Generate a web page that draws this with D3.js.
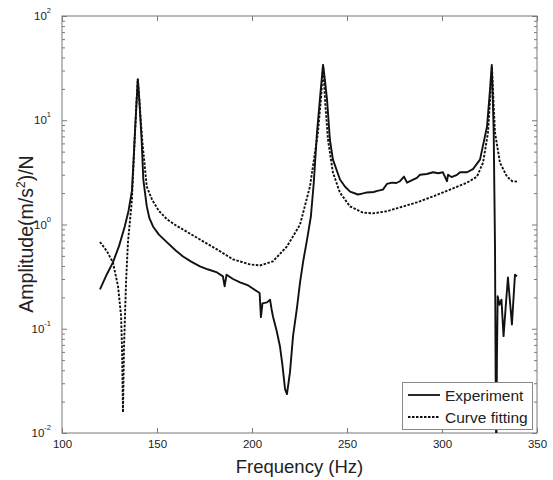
<!DOCTYPE html>
<html>
<head>
<meta charset="utf-8">
<script src="https://cdn.jsdelivr.net/npm/d3@7/dist/d3.min.js"></script>
<style>
  html, body { margin: 0; padding: 0; background: #fff; }
  svg { display: block; }
  text { font-family: "Liberation Sans", Arial, sans-serif; fill: #222; }
</style>
</head>
<body>
<svg id="chart" width="553" height="480"></svg>
<script>
// ---- data ----
const xTicks = [100, 150, 200, 250, 300, 350];
const yTickExps = [-2, -1, 0, 1, 2];

const expFreq = [120, 123.5, 126.8, 130, 133, 135, 136.8, 137.6, 138.4, 139.3, 139.9, 140.7, 141.9, 142.8, 144.6, 146,
  147.9, 151, 155.3, 160, 163.7, 168, 172.6, 177, 181.6, 184.7, 185.6, 186.6, 190, 193.7, 198, 202.6, 204,
  204.7, 205.5, 207.9, 209.5, 210.3, 211, 213, 214.7, 216, 217.4, 218.4, 220, 221.6, 223.7, 225.3, 227, 229,
  231, 232.5, 234.2, 236, 237.4, 238.3, 239.5, 241, 242.6, 246.3, 249, 251.6, 255.8, 258, 260.5, 264, 266,
  268.9, 271, 273.7, 276, 277.9, 280, 281.6, 284, 286.8, 288.4, 292, 295.3, 298, 300.5, 302.6, 303.2, 305,
  307.9, 309.5, 313.2, 316.3, 320, 323.7, 325.3, 326.2, 327.2, 327.9, 328.3, 328.6, 328.9, 329.3, 330.3,
  331.3, 332.4, 333.5, 334.7, 336.8, 338.4, 339.5];
const expAmp = [0.239, 0.33, 0.433, 0.62, 0.95, 1.35, 2.1, 3.9, 7.6, 15.7, 24.8, 15.7, 6.5, 2.7, 1.5, 1.15,
  0.957, 0.8, 0.673, 0.56, 0.494, 0.44, 0.397, 0.37, 0.347, 0.318, 0.255, 0.33, 0.3, 0.279, 0.26, 0.229, 0.22,
  0.129, 0.175, 0.179, 0.19, 0.154, 0.132, 0.095, 0.068, 0.045, 0.0264, 0.0236, 0.0383, 0.085, 0.16, 0.28, 0.45, 0.72,
  1.2, 2.5, 7.6, 18, 34, 25, 15.7, 6.5, 4.19, 2.7, 2.3, 2.07, 1.94, 1.98, 2.03, 2.05, 2.1,
  2.16, 2.45, 2.52, 2.5, 2.6, 2.88, 2.52, 2.65, 2.8, 3.0, 3.05, 3.17, 3.1, 3.17, 2.6, 3.0, 2.85,
  3.0, 3.17, 3.17, 3.4, 4.19, 8.7, 20, 34, 8, 0.6, 0.02, 0.006, 0.05, 0.205, 0.17,
  0.19, 0.085, 0.16, 0.31, 0.11, 0.33, 0.318];

const fitFreq = [120, 123.7, 126.8, 129.5, 131.1, 131.6, 132.1, 132.6, 133.7, 134.7, 136.8, 138.4, 139.3, 139.9,
  140.7, 142.2, 144.6, 147.4, 151, 155.3, 160, 163.7, 172.6, 181.6, 190, 198.9, 204.2, 211, 218.4, 225.3,
  230.5, 234.7, 236.5, 237.4, 238.5, 240, 242.6, 246.3, 251.6, 258.4, 263.7, 271, 277.9, 286.8, 295.3,
  304.2, 313.2, 318.4, 321.6, 324.2, 325.5, 326.3, 327.1, 327.9, 330.5, 334.2, 337, 339.5];
const fitAmp = [0.68, 0.552, 0.433, 0.255, 0.132, 0.0637, 0.0158, 0.0637, 0.279, 0.673, 1.73, 7.6, 15.7, 24.8,
  15.7, 6.5, 2.31, 1.73, 1.35, 1.12, 0.98, 0.895, 0.718, 0.577, 0.463, 0.414, 0.405, 0.443, 0.616, 1.0,
  2.31, 7.6, 18, 34, 15, 6.5, 3.15, 2.02, 1.49, 1.30, 1.28, 1.34, 1.46, 1.63, 1.86,
  2.16, 2.52, 2.88, 3.92, 7.6, 18, 32.5, 15, 7.6, 3.92, 2.88, 2.6, 2.58];

const seriesNames = ["Experiment", "Curve fitting"];

// ---- layout ----
const svg = d3.select("#chart");
const L = 62, R = 537, T = 16, B = 433;
const x = d3.scaleLinear().domain([100, 350]).range([L, R]);
const y = d3.scaleLog().domain([0.01, 100]).range([B, T]);
const axisColor = "#7a7a7a";

svg.append("defs").append("clipPath").attr("id", "clip")
  .append("rect").attr("x", L).attr("y", T).attr("width", R - L).attr("height", B - T);

// minor/major ticks (inward) on all four sides
const yTickVals = [];
for (let e = -2; e < 2; e++) for (let m = 1; m <= 9; m++) yTickVals.push(m * Math.pow(10, e));
yTickVals.push(100);

const leftAxis = d3.axisLeft(y).tickValues(yTickVals).tickSize(0).tickFormat("");
const gL = svg.append("g").attr("transform", `translate(${L},0)`).call(leftAxis);
const gR = svg.append("g").attr("transform", `translate(${R},0)`).call(d3.axisRight(y).tickValues(yTickVals).tickSize(0).tickFormat(""));
[gL, gR].forEach((g, i) => {
  g.select(".domain").remove();
  g.selectAll(".tick line")
    .attr("x2", d => {
      const major = Math.abs(Math.log10(d) - Math.round(Math.log10(d))) < 1e-9;
      const len = major ? 5 : 3;
      return i === 0 ? len : -len;
    })
    .attr("stroke", axisColor).attr("stroke-width", 1);
});

const gB = svg.append("g").attr("transform", `translate(0,${B})`)
  .call(d3.axisBottom(x).tickValues(xTicks).tickSizeInner(-5).tickSizeOuter(0).tickPadding(7).tickFormat(d3.format("d")));
gB.select(".domain").remove();
gB.selectAll(".tick line").attr("stroke", axisColor);
gB.selectAll(".tick text").attr("font-size", 11.5).style("fill", "#222").attr("font-family", "Liberation Sans, Arial, sans-serif");

const gT = svg.append("g").attr("transform", `translate(0,${T})`)
  .call(d3.axisTop(x).tickValues(xTicks).tickSizeInner(-5).tickSizeOuter(0).tickFormat(""));
gT.select(".domain").remove();
gT.selectAll(".tick line").attr("stroke", axisColor);

// frame
svg.append("rect").attr("x", L).attr("y", T).attr("width", R - L).attr("height", B - T)
  .attr("fill", "none").attr("stroke", axisColor).attr("stroke-width", 1);

// y tick labels 10^n
const yl = svg.append("g").selectAll("text").data(yTickExps).join("text")
  .attr("x", 51).attr("y", d => y(Math.pow(10, d)) + 4)
  .attr("text-anchor", "end").attr("font-size", 11.5);
yl.append("tspan").text("10");
yl.append("tspan").attr("dy", -7).attr("font-size", 7.5).attr("text-anchor", "start").text(d => String(d));

// lines
const line = d3.line().x(d => x(d[0])).y(d => y(d[1]));
const plot = svg.append("g").attr("clip-path", "url(#clip)");
plot.append("path").datum(fitFreq.map((f, i) => [f, fitAmp[i]]))
  .attr("d", line).attr("fill", "none").attr("stroke", "#111").attr("stroke-width", 1.9)
  .attr("stroke-dasharray", "2.5,1.5");
plot.append("path").datum(expFreq.map((f, i) => [f, expAmp[i]]))
  .attr("d", line).attr("fill", "none").attr("stroke", "#111").attr("stroke-width", 1.9)
  .attr("stroke-linejoin", "round");

// axis titles
svg.append("text").attr("x", (L + R) / 2).attr("y", 473).attr("text-anchor", "middle")
  .attr("font-size", 18.5).text("Frequency (Hz)");
const yt = svg.append("text").attr("transform", "translate(33,234) rotate(-90)")
  .attr("text-anchor", "middle").attr("font-size", 19.5);
yt.append("tspan").text("Amplitude(m/s");
yt.append("tspan").attr("dy", -8).attr("font-size", 12).text("2");
yt.append("tspan").attr("dy", 8).text(")/N");

// legend
const lg = svg.append("g");
lg.append("rect").attr("x", 402.5).attr("y", 382.5).attr("width", 130).attr("height", 47)
  .attr("fill", "#fff").attr("stroke", "#888").attr("stroke-width", 1);
seriesNames.forEach((name, i) => {
  const cy = 395 + i * 22;
  lg.append("line").attr("x1", 408).attr("x2", 440).attr("y1", cy).attr("y2", cy)
    .attr("stroke", "#111").attr("stroke-width", 1.8)
    .attr("stroke-dasharray", i === 1 ? "2.5,1.5" : null);
  lg.append("text").attr("x", 445).attr("y", cy + 5.5).attr("font-size", 15.5).text(name);
});
</script>
</body>
</html>
